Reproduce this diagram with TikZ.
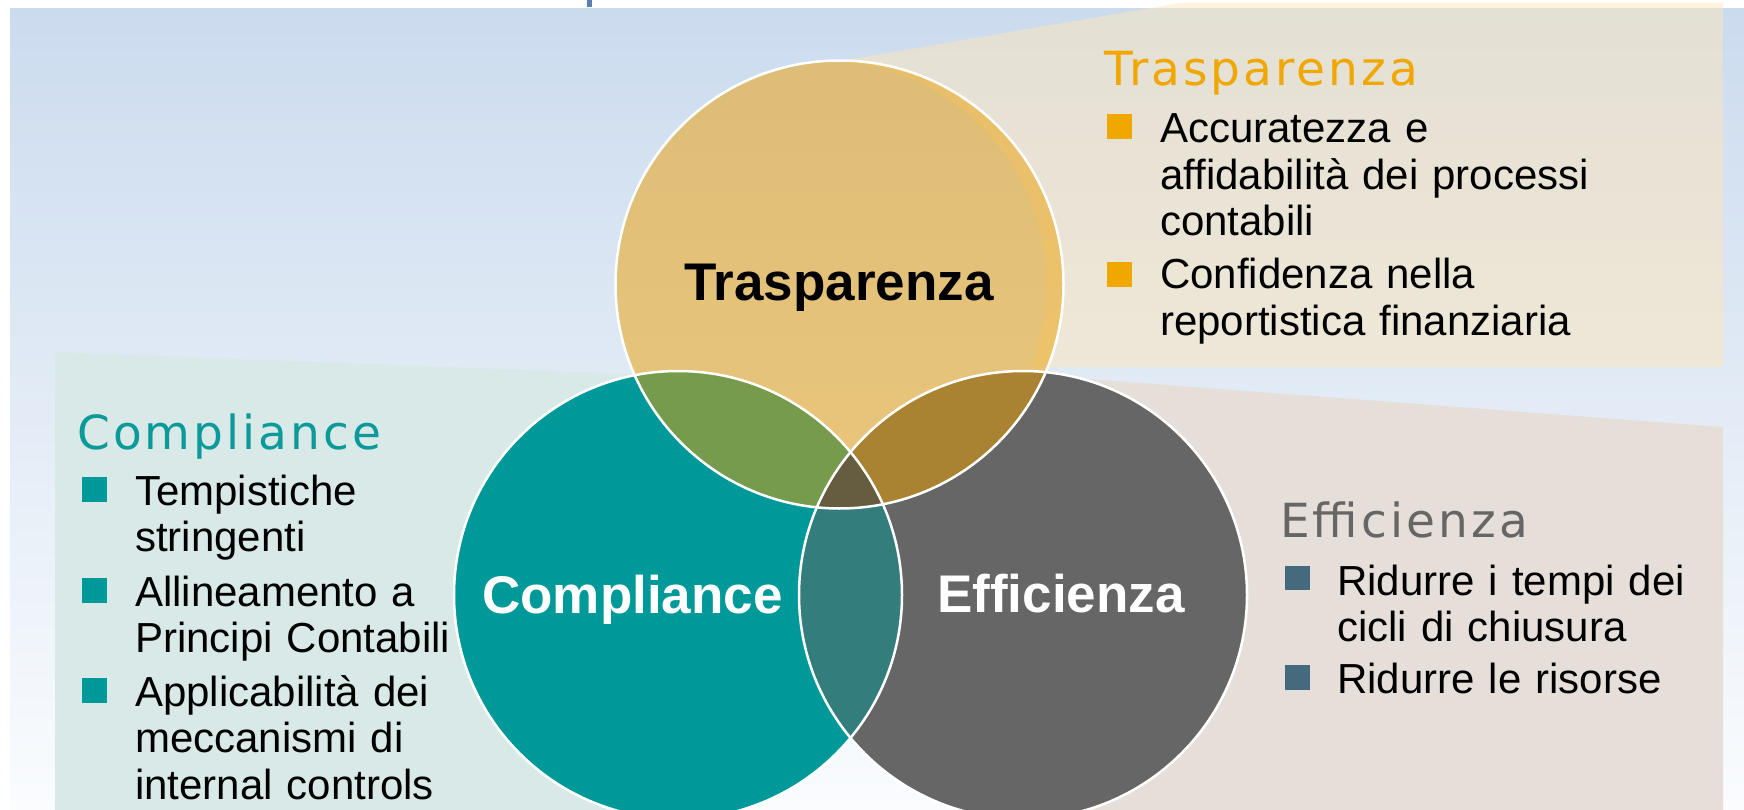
\documentclass[tikz,border=0pt]{standalone}
\usepackage{fontspec}
\setmainfont{Liberation Sans}
\newfontfamily\headfont[LetterSpace=6.5]{DejaVu Sans}
\definecolor{bgTop}{HTML}{CBDBEE}
\definecolor{bgMid}{HTML}{DCE6F2}
\definecolor{bgBot}{HTML}{FAFCFE}
\definecolor{panelL}{HTML}{D8E9E8}
\definecolor{panelR}{HTML}{E6DFD9}
\definecolor{panelT}{HTML}{FFE6B8}
\definecolor{tealC}{HTML}{009999}
\definecolor{grayC}{HTML}{666666}
\definecolor{lensLR}{HTML}{347D7D}
\definecolor{orangeC}{HTML}{EC9E00}
\definecolor{tripleC}{HTML}{665C40}
\definecolor{headT}{HTML}{F0A800}
\definecolor{headC}{HTML}{0A9A99}
\definecolor{headE}{HTML}{666666}
\definecolor{bulE}{HTML}{456A7D}
\definecolor{tickC}{HTML}{5A7FAF}
\tikzset{
  body/.style={font=\fontsize{42bp}{46.5bp}\selectfont, align=left, inner sep=0pt, text width=620bp, anchor=base west, text=black},
  head/.style={font=\headfont\fontsize{47bp}{52bp}\selectfont, inner sep=0pt, anchor=base west},
  label/.style={font=\bfseries\fontsize{53bp}{60bp}\selectfont, inner sep=0pt, anchor=base},
  bul/.style={fill=#1, draw=none, minimum width=25bp, minimum height=24.5bp, inner sep=0pt, anchor=south west},
  ring/.style={draw=white, line width=2.5bp}
}
\begin{document}
\begin{tikzpicture}[x=1bp,y=-1bp]
\useasboundingbox (0,0) rectangle (1744,810);
% background
\fill[white] (0,0) rectangle (1744,810);
\shade[top color=bgTop, middle color=bgMid, bottom color=bgBot] (10,9) rectangle (1744,810);
\fill[tickC] (587,0) rectangle (592,7);
% panels
\fill[panelL] (55,352) -- (680,376) -- (680,810) -- (55,810) -- cycle;
\fill[panelR] (1022,374) -- (1723,427) -- (1723,810) -- (1022,810) -- cycle;
\begin{scope}
  \clip (840,61) -- (1180,3) -- (1723,3) -- (1723,367) -- (840,367) -- cycle;
  \fill[panelT, fill opacity=0.48, even odd rule] (800,0) rectangle (1744,400) (822.5,284.5) circle (224);
\end{scope}
% circles
\coordinate (T) at (839.5,284.5);
\coordinate (L) at (678,595);
\coordinate (R) at (1023,595);
\fill[tealC] (L) circle (224);
\fill[grayC] (R) circle (224);
\begin{scope}
  \clip (L) circle (224);
  \fill[lensLR] (R) circle (224);
\end{scope}
\fill[orangeC, fill opacity=0.5] (T) circle (224);
\begin{scope}
  \clip (L) circle (224);
  \clip (R) circle (224);
  \fill[tripleC] (T) circle (224);
\end{scope}
\draw[ring] (L) circle (224);
\draw[ring] (R) circle (224);
\draw[ring] (T) circle (224);
% circle labels
\node[label, text=black] (lT) at (839,300) {Trasparenza};
\node[label, text=white] (lC) at (632.5,613.5) {Compliance};
\node[label, text=white] (lE) at (1061,612) {Efficienza};
% Trasparenza panel
\node[head, text=headT] (hT) at (1104,86) {Trasparenza};
\node[bul=headT] (bT1) at (1107,139) {};
\node[body] (tT1) at (1160,142.7) {Accuratezza e\\affidabilità dei processi\\contabili};
\node[bul=headT] (bT2) at (1107,287) {};
\node[body] (tT2) at (1160,288.5) {Confidenza nella\\reportistica finanziaria};
% Compliance panel
\node[head, text=headC] (hC) at (77,449) {Compliance};
\node[bul=tealC] (bC1) at (81.5,502) {};
\node[body] (tC1) at (135,505) {Tempistiche\\stringenti};
\node[bul=tealC] (bC2) at (81.5,603) {};
\node[body] (tC2) at (135,606) {Allineamento a\\Principi Contabili};
\node[bul=tealC] (bC3) at (81.5,703) {};
\node[body] (tC3) at (135,706) {Applicabilità dei\\meccanismi di\\internal controls};
% Efficienza panel
\node[head, text=headE] (hE) at (1280,537) {Efficienza};
\node[bul=bulE] (bE1) at (1285,590.5) {};
\node[body] (tE1) at (1337,595) {Ridurre i tempi dei\\cicli di chiusura};
\node[bul=bulE] (bE2) at (1285,690) {};
\node[body] (tE2) at (1337,693) {Ridurre le risorse};
\end{tikzpicture}
\end{document}
